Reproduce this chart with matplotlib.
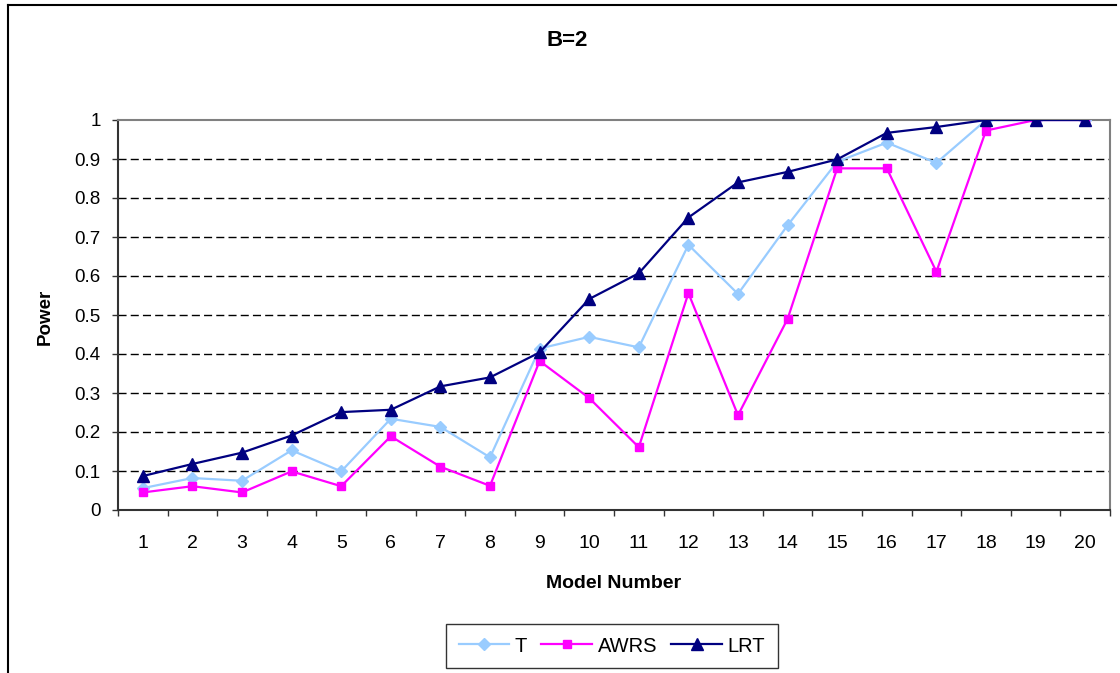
import matplotlib
matplotlib.use("Agg")
import matplotlib.pyplot as plt
from matplotlib.lines import Line2D

plt.rcParams['font.family'] = ['Liberation Sans', 'DejaVu Sans']

models = list(range(1, 21))
t_power = [0.056, 0.082, 0.075, 0.153, 0.099, 0.234, 0.213, 0.135, 0.414, 0.444,
           0.417, 0.680, 0.554, 0.730, 0.893, 0.942, 0.890, 1.000, 1.000, 1.000]
awrs_power = [0.045, 0.061, 0.045, 0.099, 0.061, 0.189, 0.111, 0.062, 0.382, 0.287,
              0.161, 0.556, 0.243, 0.490, 0.876, 0.876, 0.611, 0.973, 1.000, 1.000]
lrt_power = [0.087, 0.118, 0.147, 0.191, 0.251, 0.257, 0.317, 0.340, 0.404, 0.541,
             0.607, 0.750, 0.840, 0.867, 0.899, 0.967, 0.982, 1.000, 1.000, 1.000]
y_ticks = [0, 0.1, 0.2, 0.3, 0.4, 0.5, 0.6, 0.7, 0.8, 0.9, 1]
y_tick_labels = ['0', '0.1', '0.2', '0.3', '0.4', '0.5', '0.6', '0.7', '0.8', '0.9', '1']

W, H = 1120, 673
fig = plt.figure(figsize=(W / 100, H / 100), dpi=100)
ax = fig.add_axes([118 / W, 1 - 510 / H, (1110 - 118) / W, (510 - 120) / H])

# outer chart frame (left and top edges)
fig.add_artist(Line2D([8 / W, 8 / W], [-0.01, 1 - 5 / H], transform=fig.transFigure,
                      color='black', lw=1.5))
fig.add_artist(Line2D([8 / W, 1116 / W], [1 - 5 / H, 1 - 5 / H], transform=fig.transFigure,
                      color='black', lw=1.5))

ax.plot(models, t_power, color='#99CCFF', lw=1.6, marker='D', ms=6.5,
        mec='#99CCFF', mfc='#99CCFF', label='T', zorder=3)
ax.plot(models, awrs_power, color='#FF00FF', lw=1.6, marker='s', ms=6.2,
        mec='#FF00FF', mfc='#FF00FF', label='AWRS', zorder=4)
ax.plot(models, lrt_power, color='#000080', lw=1.6, marker='^', ms=8,
        mec='#000080', mfc='#000080', label='LRT', zorder=5)

ax.set_xlim(0.5, 20.5)
ax.set_ylim(0, 1)
ax.set_yticks(y_ticks)
ax.set_yticklabels(y_tick_labels)
ax.set_xticks(models)
ax.set_xticklabels([str(m) for m in models])
ax.set_xticks([m + 0.5 for m in range(0, 21)], minor=True)

ax.tick_params(axis='x', which='major', length=0, pad=18, labelsize=14)
ax.tick_params(axis='x', which='minor', length=4.5, width=1, direction='out', color='#333333')
ax.tick_params(axis='y', which='major', length=4.5, width=1, direction='out',
               pad=8, labelsize=13.5, color='#333333')

for y in y_ticks[1:-1]:
    ax.axhline(y, color='black', lw=1.0, ls=(0, (5.8, 3)), zorder=1)

ax.spines['left'].set_color('#333333')
ax.spines['bottom'].set_color('#333333')
ax.spines['top'].set_color('#808080')
ax.spines['right'].set_color('#808080')
for s in ax.spines.values():
    s.set_linewidth(1.5)

fig.text(567 / W, 1 - 40 / H, 'B=2', ha='center', va='center',
         fontsize=16, fontweight='bold')
fig.text(614 / W, 1 - 583 / H, 'Model Number', ha='center', va='center',
         fontsize=14, fontweight='bold')
fig.text(45 / W, 1 - 317 / H, 'Power', ha='center', va='center',
         rotation=90, fontsize=13.5, fontweight='bold')

leg = fig.legend(loc='center', bbox_to_anchor=(612 / W, 1 - 646 / H), ncol=3,
                 frameon=True, fancybox=False, edgecolor='black', fontsize=14.5,
                 handlelength=2.5, columnspacing=0.7, handletextpad=0.3,
                 borderpad=0.6, borderaxespad=0)
leg.get_frame().set_linewidth(1.0)

fig.savefig('out.png', dpi=100, facecolor='white')
